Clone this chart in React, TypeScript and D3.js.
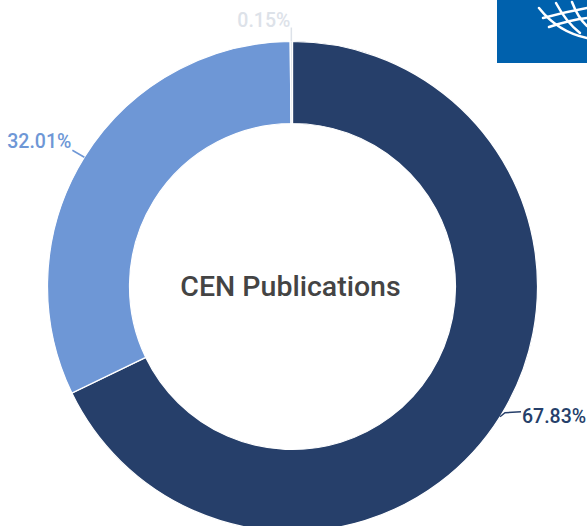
import React from "react";
import * as d3 from "d3";

const categories = ["A", "B", "C"];
const values = [67.83, 32.01, 0.15];
const labels = ["67.83%", "32.01%", "0.15%"];
const colors = ["#263f6a", "#6e97d6", "#dde2e9"];
const labelColors = ["#263f6a", "#6e97d6", "#dde2e9"];
const centerTitle = "CEN Publications";

const W = 587;
const H = 526;
const cx = 292.5;
const cy = 286.5;
const R = 245;
const r = 163;

export default function App() {
  const pie = d3.pie<number>().sort(null).value((d) => d);
  const arcs = pie(values);
  const arcGen = d3.arc<d3.PieArcDatum<number>>().innerRadius(r).outerRadius(R);

  const pt = (a: number, rad: number) => [cx + rad * Math.sin(a), cy - rad * Math.cos(a)];

  return (
    <svg
      width={W}
      height={H}
      style={{ position: "absolute", left: 0, top: 0, background: "#fff", fontFamily: "Roboto, sans-serif" }}
    >
      <g transform={`translate(${cx},${cy})`}>
        {arcs.map((a, i) => (
          <path key={categories[i]} d={arcGen(a) || ""} fill={colors[i]} stroke="#fff" strokeWidth={1.2} />
        ))}
      </g>
      {arcs.map((a, i) => {
        const mid = (a.startAngle + a.endAngle) / 2;
        const [px, py] = pt(mid, R);
        const s = Math.sin(mid);
        if (Math.abs(s) < 0.05) {
          return (
            <g key={"l" + i}>
              <line x1={px} y1={py} x2={px} y2={py - 14} stroke={labelColors[i]} strokeWidth={1.5} />
              <text x={px - 1} y={py - 14.5} textAnchor="end" fontSize={19.5} fontWeight={500} fill={labelColors[i]}>
                {labels[i]}
              </text>
            </g>
          );
        }
        if (s > 0) {
          return (
            <g key={"l" + i}>
              <polyline
                points={`${px},${py} ${px + 5},${py - 4} ${px + 21},${py - 5}`}
                fill="none"
                stroke={labelColors[i]}
                strokeWidth={1.5}
              />
              <text x={px + 22} y={py + 6} textAnchor="start" fontSize={19.5} fontWeight={500} fill={labelColors[i]}>
                {labels[i]}
              </text>
            </g>
          );
        }
        return (
          <g key={"l" + i}>
            <polyline
              points={`${px},${py} ${px - 12},${py - 7}`}
              fill="none"
              stroke={labelColors[i]}
              strokeWidth={1.5}
            />
            <text x={px - 13} y={py - 9.5} textAnchor="end" fontSize={19.5} fontWeight={500} fill={labelColors[i]}>
              {labels[i]}
            </text>
          </g>
        );
      })}
      <text x={cx - 2} y={296} textAnchor="middle" fontSize={28.5} fontWeight={500} fill="#444">
        {centerTitle}
      </text>
      <g>
        <rect x={497} y={0} width={90} height={63} fill="#0061ad" />
        <g fill="none" stroke="#fff" strokeWidth={2.5} strokeLinecap="round">
          <path d="M539,8 Q558,32 587,38" />
          <path d="M556,3 Q566,22 580,33" />
          <path d="M572,2 Q578,18 587,26" />
          <path d="M543,18 Q565,12 587,8" />
          <path d="M549,27 Q570,20 587,18" />
        </g>
      </g>
    </svg>
  );
}
